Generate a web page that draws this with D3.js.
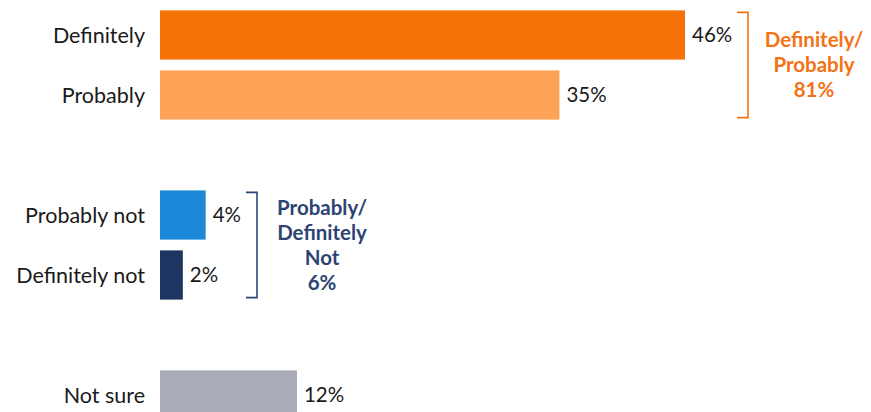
<!DOCTYPE html>
<html>
<head>
<meta charset="utf-8">
<script src="https://cdn.jsdelivr.net/npm/d3@7"></script>
<style>
  body { margin: 0; background: #fff; }
  text { font-family: Lato, "Open Sans", sans-serif; }
</style>
</head>
<body>
<svg id="chart" width="871" height="412"></svg>
<script>
// answers, top to bottom (blank slots keep the gaps between groups)
var categories = ['Definitely', 'Probably', 'gap1', 'Probably not', 'Definitely not', 'gap2', 'Not sure'];
var answers = ['Definitely', 'Probably', 'Probably not', 'Definitely not', 'Not sure'];
var values = [46, 35, 4, 2, 12];
var colors = ['#f77206', '#fda257', '#1b88d8', '#1e3461', '#a9abb8'];

// bracketed totals
var groupLabels = [['Definitely/', 'Probably', '81%'], ['Probably/', 'Definitely', 'Not', '6%']];
var groupSpans = [['Definitely', 'Probably'], ['Probably not', 'Definitely not']];
var groupColors = ['#f47216', '#2d4472'];

var svg = d3.select('#chart');

var x = d3.scaleLinear().domain([0, 46]).range([160, 685]);
var y = d3.scaleBand().domain(categories).range([5, 425]).paddingInner(0.18).paddingOuter(0.09);

var rows = answers.map(function(a, i) {
  return { name: a, value: values[i], color: colors[i] };
});

svg.selectAll('rect.bar')
  .data(rows)
  .enter().append('rect')
  .attr('class', 'bar')
  .attr('x', x(0))
  .attr('y', function(d) { return y(d.name); })
  .attr('width', function(d) { return x(d.value) - x(0); })
  .attr('height', y.bandwidth())
  .attr('fill', function(d) { return d.color; });

// category labels
svg.selectAll('text.cat')
  .data(rows)
  .enter().append('text')
  .attr('class', 'cat')
  .attr('x', 145)
  .attr('y', function(d) { return y(d.name) + y.bandwidth() / 2; })
  .attr('dy', '0.35em')
  .attr('text-anchor', 'end')
  .attr('font-size', 21.5)
  .attr('fill', '#1a1a1a')
  .text(function(d) { return d.name; });

// value labels
svg.selectAll('text.val')
  .data(rows)
  .enter().append('text')
  .attr('class', 'val')
  .attr('x', function(d) { return x(d.value) + 7; })
  .attr('y', function(d) { return y(d.name) + y.bandwidth() / 2; })
  .attr('dy', '0.35em')
  .attr('font-size', 20.5)
  .attr('fill', '#1a1a1a')
  .text(function(d) { return d.value + '%'; });

// brackets + totals
var bracketX = [748, 257];
var textX = [814, 322];

groupSpans.forEach(function(span, i) {
  var top = y(span[0]) + 2;
  var bot = y(span[1]) + y.bandwidth() - 2;
  var bx = bracketX[i];
  svg.append('path')
    .attr('d', 'M' + (bx - 11) + ',' + top + 'H' + bx + 'V' + bot + 'H' + (bx - 11))
    .attr('fill', 'none')
    .attr('stroke', groupColors[i])
    .attr('stroke-width', 1.6);

  var lines = groupLabels[i];
  var mid = (top + bot) / 2;
  var lh = 25;
  var t = svg.append('text')
    .attr('text-anchor', 'middle')
    .attr('font-size', 20.5)
    .attr('font-weight', 'bold')
    .attr('fill', groupColors[i]);
  lines.forEach(function(l, j) {
    t.append('tspan')
      .attr('x', textX[i])
      .attr('y', mid + (j - (lines.length - 1) / 2) * lh)
      .attr('dy', '0.35em')
      .text(l);
  });
});
</script>
</body>
</html>
